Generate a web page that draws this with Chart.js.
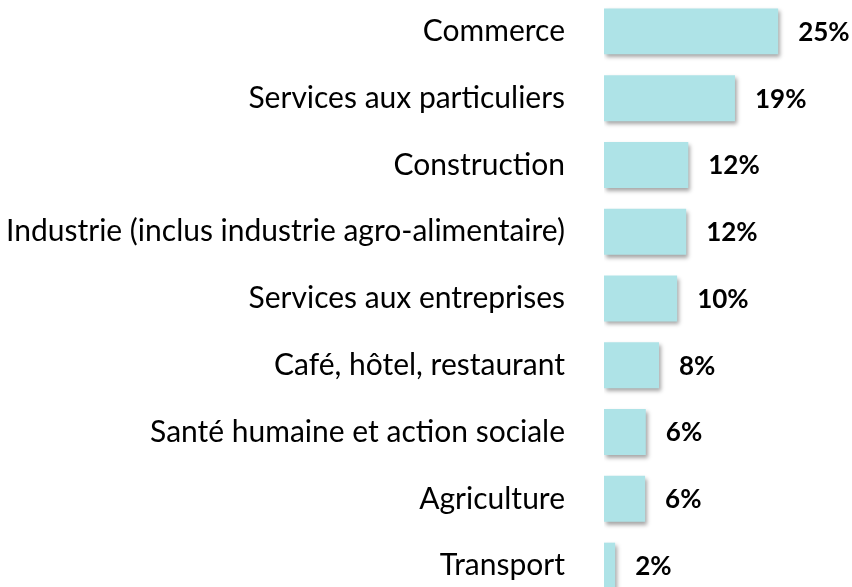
<!DOCTYPE html>
<html>
<head>
<meta charset="utf-8">
<script src="https://cdn.jsdelivr.net/npm/chart.js@4/dist/chart.umd.min.js"></script>
<style>
  html, body { margin: 0; padding: 0; background: #fff; overflow: hidden; }
  #wrap { position: absolute; left: 0; top: -2px; width: 852px; height: 601px; }
</style>
</head>
<body>
<div id="wrap"><canvas id="sectorChart"></canvas></div>
<script>
const categories = [
  "Commerce",
  "Services aux particuliers",
  "Construction",
  "Industrie (inclus industrie agro-alimentaire)",
  "Services aux entreprises",
  "Café, hôtel, restaurant",
  "Santé humaine et action sociale",
  "Agriculture",
  "Transport"
];
// bar lengths (percent)
const shares = [25, 18.8, 12.1, 11.8, 10.5, 7.9, 6, 5.9, 1.6];
// printed labels
const shareLabels = ["25%", "19%", "12%", "12%", "10%", "8%", "6%", "6%", "2%"];

const LABEL_FONT = "Lato, 'DejaVu Sans', sans-serif";

const barShadow = {
  id: "barShadow",
  beforeDatasetDraw(chart) {
    const ctx = chart.ctx;
    ctx.save();
    ctx.shadowColor = "rgba(0, 0, 0, 0.35)";
    ctx.shadowBlur = 4;
    ctx.shadowOffsetX = 2;
    ctx.shadowOffsetY = 3;
  },
  afterDatasetDraw(chart) {
    chart.ctx.restore();
  }
};

const valueLabels = {
  id: "valueLabels",
  afterDatasetsDraw(chart) {
    const ctx = chart.ctx;
    const meta = chart.getDatasetMeta(0);
    ctx.save();
    ctx.fillStyle = "#000";
    ctx.font = "bold 26px " + LABEL_FONT;
    ctx.textAlign = "left";
    ctx.textBaseline = "middle";
    meta.data.forEach((bar, i) => {
      ctx.fillText(shareLabels[i], bar.x + 20, bar.y + 1);
    });
    ctx.restore();
  }
};

const ctx = document.getElementById("sectorChart").getContext("2d");
new Chart(ctx, {
  type: "bar",
  data: {
    labels: categories,
    datasets: [{
      data: shares,
      backgroundColor: "#aee3e7",
      borderWidth: 0,
      categoryPercentage: 0.8,
      barPercentage: 0.86
    }]
  },
  options: {
    indexAxis: "y",
    responsive: true,
    maintainAspectRatio: false,
    animation: false,
    layout: { padding: 0 },
    plugins: {
      legend: { display: false },
      tooltip: { enabled: false }
    },
    scales: {
      x: {
        display: false,
        min: 0,
        max: 35.6
      },
      y: {
        // fixed label column; no extra top/bottom room from tick padding
        afterFit(scale) {
          scale.width = 604;
          scale.paddingTop = 0;
          scale.paddingBottom = 0;
        },
        grid: { display: false },
        border: { display: false },
        ticks: {
          color: "#000",
          padding: 31,
          autoSkip: false,
          font: { family: LABEL_FONT, size: 30 }
        }
      }
    }
  },
  plugins: [barShadow, valueLabels]
});
</script>
</body>
</html>
